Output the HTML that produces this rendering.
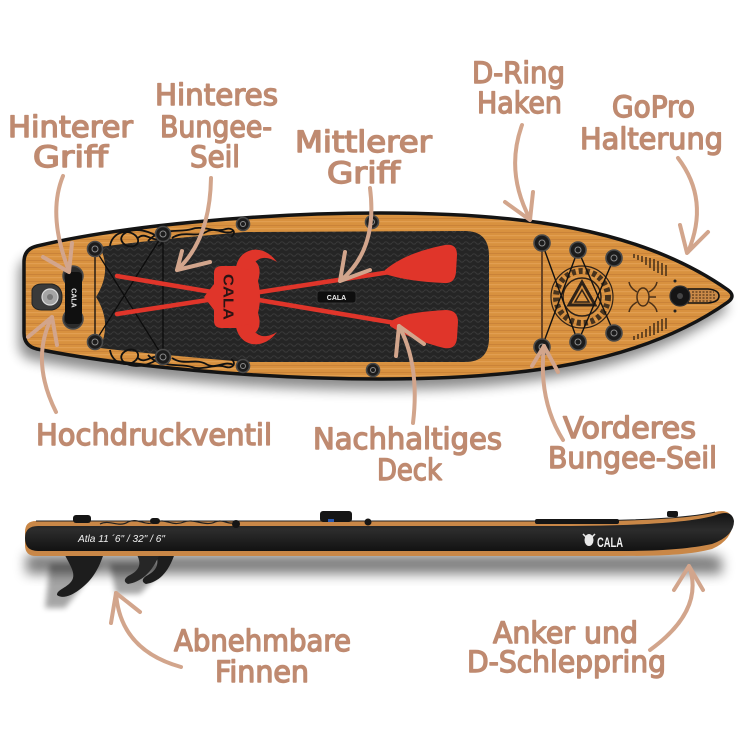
<!DOCTYPE html>
<html><head><meta charset="utf-8">
<style>
html,body{margin:0;padding:0;background:#fff;}
svg{display:block;}
.lb{font-family:"DejaVu Sans","Liberation Sans",sans-serif;font-weight:normal;font-size:29px;fill:#bf8a70;stroke:#bf8a70;stroke-width:1.4;stroke-linejoin:round;}
.ar{fill:none;stroke:#d2a58c;stroke-width:4;stroke-linecap:round;stroke-linejoin:round;}
.post{fill:#1c1c1c;stroke:#4a4a4a;stroke-width:1.6;}
.pin{fill:none;stroke:#8a8a8a;stroke-width:1;}
.ck{fill:none;stroke:#111;stroke-width:1.8;}
</style></head><body>
<svg width="750" height="750" viewBox="0 0 750 750" xmlns="http://www.w3.org/2000/svg">
<defs>
<filter id="bl" x="-10%" y="-60%" width="120%" height="220%"><feGaussianBlur stdDeviation="6"/></filter>
<filter id="bl3" x="-30%" y="-30%" width="160%" height="160%"><feGaussianBlur stdDeviation="3"/></filter>
<pattern id="wood" width="300" height="7" patternUnits="userSpaceOnUse">
<rect width="300" height="7" fill="#d8913f"/>
<rect y="1" width="300" height="1" fill="#b87230" opacity=".45"/>
<rect y="4" width="300" height="1.2" fill="#eaac63" opacity=".5"/>
</pattern>
<pattern id="mesh" width="8" height="6" patternUnits="userSpaceOnUse">
<rect width="8" height="6" fill="#252525"/>
<path d="M0,3 Q2,0.5 4,3 T8,3" stroke="#383838" stroke-width="1.1" fill="none"/>
</pattern>
<linearGradient id="side" x1="0" y1="0" x2="0" y2="1">
<stop offset="0" stop-color="#141414"/>
<stop offset=".45" stop-color="#2c2c2c"/>
<stop offset="1" stop-color="#121212"/>
</linearGradient>
</defs>

<!-- ===== TOP BOARD ===== -->
<path d="M24,262 Q24,249 37,246 C120,226 260,213 380,213 C520,213 640,228 728,290 Q736,296 728,302 C640,364 520,379 380,379 C260,379 120,366 37,349 Q24,346 24,333 Z" transform="translate(-5,11)" fill="#000" opacity=".45" filter="url(#bl)"/>
<path d="M24,262 Q24,249 37,246 C120,226 260,213 380,213 C520,213 640,228 728,290 Q736,296 728,302 C640,364 520,379 380,379 C260,379 120,366 37,349 Q24,346 24,333 Z" fill="url(#wood)" stroke="#141414" stroke-width="3.5"/>

<!-- deck pad -->
<path d="M100,247 C150,240 200,236 245,232 L465,231 Q489,231 489,256 L489,338 Q489,362 465,362 L245,362 C200,358 150,354 100,348 Q112,322 96,297 Q112,272 100,247 Z" fill="url(#mesh)"/>

<!-- celtic knots -->
<g class="ck">
<path d="M110,246 C112,232 128,228 136,236 C143,244 131,251 123,243 C116,235 131,226 148,232 C160,236 166,244 158,246 M148,241 C160,227 180,233 192,229 C202,225 216,233 226,229 C233,227 237,233 231,237 M172,238 C184,230 196,238 206,232 C216,226 224,236 234,231 M138,238 C146,230 154,246 164,236"/>
<path transform="translate(0,596) scale(1,-1)" d="M110,246 C112,232 128,228 136,236 C143,244 131,251 123,243 C116,235 131,226 148,232 C160,236 166,244 158,246 M148,241 C160,227 180,233 192,229 C202,225 216,233 226,229 C233,227 237,233 231,237 M172,238 C184,230 196,238 206,232 C216,226 224,236 234,231 M138,238 C146,230 154,246 164,236"/>
</g>

<!-- rear bungee -->
<g stroke="#0c0c0c" stroke-width="1.3">
<line x1="95" y1="249" x2="95" y2="342"/>
<line x1="163" y1="234" x2="163" y2="357"/>
<line x1="95" y1="249" x2="163" y2="357"/>
<line x1="163" y1="234" x2="95" y2="342"/>
</g>

<!-- red paddles -->
<g fill="#e0352a">
<line x1="117" y1="314" x2="390" y2="272" stroke="#e0352a" stroke-width="4.5" stroke-linecap="round"/>
<line x1="117" y1="276" x2="395" y2="323" stroke="#e0352a" stroke-width="4.5" stroke-linecap="round"/>
<path d="M385,270 C395,262 410,252 445,245 Q457,243 457,255 L456,272 Q455,284 444,283 C420,282 400,279 385,274 Z"/>
<path d="M390,322 C398,316 410,312 446,310 Q458,310 458,322 L457,338 Q456,350 444,348 C420,342 402,334 390,326 Z"/>
<!-- helmet -->
<path d="M204,297 L214,284 L214,273 Q214,266 222,266 L240,266 Q249,258 256,262 Q262,268 258,281 Q262,297 258,313 Q262,326 256,332 Q249,336 240,328 L222,328 Q214,328 214,321 L214,310 Z"/>
<path d="M236,267 C240,247 263,243 277,262 C264,254 255,258 250,270 Z"/>
<path d="M236,327 C240,347 263,351 277,332 C264,340 255,336 250,324 Z"/>
</g>
<text x="0" y="0" transform="translate(228,297) rotate(90)" text-anchor="middle" dominant-baseline="central" font-family="Liberation Sans, sans-serif" font-weight="bold" font-size="15" fill="#2a1414" textLength="46" lengthAdjust="spacingAndGlyphs">CALA</text>

<!-- center handle -->
<rect x="317" y="291" width="39" height="12" rx="3" fill="#0e0e0e" stroke="#333" stroke-width="1"/>
<text x="336.5" y="300" text-anchor="middle" font-family="Liberation Sans, sans-serif" font-weight="bold" font-size="7" fill="#eee">CALA</text>

<!-- rear handle + valve -->
<circle cx="73" cy="276" r="10" fill="#2b2b2b" stroke="#4a4a4a" stroke-width="1.5"/>
<circle cx="73" cy="319" r="10" fill="#2b2b2b" stroke="#4a4a4a" stroke-width="1.5"/>
<rect x="65" y="272" width="17" height="52" rx="4" fill="#101010"/>
<text x="0" y="0" transform="translate(73,298) rotate(90)" text-anchor="middle" dominant-baseline="central" font-family="Liberation Sans, sans-serif" font-weight="bold" font-size="7" fill="#eee">CALA</text>
<path d="M32,290 Q34,284 42,284 L52,284 Q62,286 62,297 Q62,308 52,310 L42,310 Q34,310 32,304 Z" fill="#3a3a3a" stroke="#222" stroke-width="1"/>
<circle cx="50" cy="297" r="8" fill="#a5a5a5" stroke="#ddd" stroke-width="1.2"/>
<circle cx="50" cy="297" r="3" fill="#777"/>

<!-- front mandala -->
<g fill="none" stroke="#2e2218">
<circle cx="582" cy="297" r="31" stroke-width="1.2"/>
<circle cx="582" cy="297" r="26" stroke-width="6" stroke-dasharray="4 3" opacity=".85"/>
<circle cx="582" cy="297" r="19" stroke-width="1.5"/>
<path d="M582,282 L569,305 L595,305 Z" stroke-width="3"/>
<path d="M582,290 L575,302 L589,302 Z" stroke-width="1.5"/>
</g>

<!-- front bungee -->
<line x1="542" y1="243" x2="542" y2="347" stroke="#6a4525" stroke-width="2"/>
<g stroke="#111" stroke-width="1.4">
<line x1="542" y1="243" x2="578" y2="342"/>
<line x1="578" y1="250" x2="542" y2="347"/>
<line x1="578" y1="250" x2="614" y2="333"/>
<line x1="614" y1="258" x2="578" y2="342"/>
</g>

<!-- hatches -->
<g stroke="#3a2614" stroke-width="1.4">
<line x1="634" y1="254" x2="634" y2="258"/><line x1="638" y1="255" x2="638" y2="260"/>
<line x1="642" y1="256" x2="642" y2="262"/><line x1="646" y1="257" x2="646" y2="265"/>
<line x1="650" y1="258" x2="650" y2="268"/><line x1="654" y1="259" x2="654" y2="271"/>
<line x1="658" y1="261" x2="658" y2="273"/><line x1="662" y1="263" x2="662" y2="275"/>
<line x1="666" y1="265" x2="666" y2="276"/>
<line x1="634" y1="340" x2="634" y2="336"/><line x1="638" y1="339" x2="638" y2="334"/>
<line x1="642" y1="338" x2="642" y2="332"/><line x1="646" y1="337" x2="646" y2="329"/>
<line x1="650" y1="336" x2="650" y2="326"/><line x1="654" y1="335" x2="654" y2="323"/>
<line x1="658" y1="333" x2="658" y2="321"/><line x1="662" y1="331" x2="662" y2="319"/>
<line x1="666" y1="329" x2="666" y2="318"/>
</g>

<!-- small viking icon -->
<g fill="none" stroke="#4a3018" stroke-width="1.5">
<ellipse cx="643" cy="297" rx="6" ry="9"/>
<path d="M637,292 Q630,288 629,282 M649,292 Q656,288 657,282 M637,302 Q630,306 629,312 M649,302 Q656,306 657,312"/>
<path d="M649,297 L656,297"/>
</g>

<!-- front mount -->
<path d="M688,289 L708,289 Q719,290 719,296 Q719,302 708,303 L688,303 Z" fill="#c98a48" stroke="#111" stroke-width="1.6"/>
<path d="M692,292 L714,292 M692,295 L716,295 M692,298 L716,298 M692,301 L713,301" stroke="#3a2410" stroke-width="1" stroke-dasharray="2 1.5"/>
<circle cx="680" cy="296" r="10" fill="#151515" stroke="#333" stroke-width="1.2"/>
<circle cx="680" cy="296" r="3" fill="#444"/>
<circle cx="675" cy="281" r="1.5" fill="#222"/><circle cx="675" cy="311" r="1.5" fill="#222"/>

<!-- posts -->
<g>
<circle class="post" cx="95" cy="249" r="7.5"/><circle class="pin" cx="95" cy="249" r="3"/>
<circle class="post" cx="95" cy="342" r="7.5"/><circle class="pin" cx="95" cy="342" r="3"/>
<circle class="post" cx="163" cy="234" r="7.5"/><circle class="pin" cx="163" cy="234" r="3"/>
<circle class="post" cx="163" cy="357" r="7.5"/><circle class="pin" cx="163" cy="357" r="3"/>
<circle class="post" cx="243" cy="224" r="6.5"/><circle class="pin" cx="243" cy="224" r="2.5"/>
<circle class="post" cx="243" cy="366" r="6.5"/><circle class="pin" cx="243" cy="366" r="2.5"/>
<circle class="post" cx="372" cy="222" r="6.5"/><circle class="pin" cx="372" cy="222" r="2.5"/>
<circle class="post" cx="373" cy="370" r="6.5"/><circle class="pin" cx="373" cy="370" r="2.5"/>
<circle class="post" cx="542" cy="243" r="8"/><circle class="pin" cx="542" cy="243" r="3"/>
<circle class="post" cx="578" cy="250" r="8"/><circle class="pin" cx="578" cy="250" r="3"/>
<circle class="post" cx="614" cy="258" r="8"/><circle class="pin" cx="614" cy="258" r="3"/>
<circle class="post" cx="542" cy="347" r="8"/><circle class="pin" cx="542" cy="347" r="3"/>
<circle class="post" cx="578" cy="342" r="8"/><circle class="pin" cx="578" cy="342" r="3"/>
<circle class="post" cx="614" cy="333" r="8"/><circle class="pin" cx="614" cy="333" r="3"/>
</g>

<!-- ===== SIDE BOARD ===== -->
<path d="M30,548 L700,548 Q720,548 726,552 L726,568 L30,568 Z" transform="translate(-4,6)" fill="#000" opacity=".5" filter="url(#bl)"/>
<path d="M60,556 L110,556 L75,600 L55,600 Z M120,556 L178,556 L150,586 L126,586 Z" transform="translate(-10,8)" fill="#000" opacity=".35" filter="url(#bl3)"/>
<!-- fins -->
<g fill="#1d1d1d">
<path d="M64,553 C70,566 78,575 70,583 C64,589 57,590 57,595 C62,599 71,596 79,590 C93,580 99,568 104,553 Z"/>
<path d="M155,553 C160,563 157,570 148,575 C142,578 141,582 146,584 C158,582 168,574 175,553 Z"/>
<path d="M136,553 C142,563 140,570 130,575 C124,578 123,582 128,584 C140,582 152,574 160,553 Z" fill="#262626"/>
</g>
<path d="M36,521 L560,521 C640,521 690,518 715,512 Q730,508 733,520 Q733,540 712,549 C690,555 660,556 620,556 L36,556 Q25,556 25,545 L25,532 Q25,521 36,521 Z" fill="#c98747"/>
<path d="M38,526 L560,526 C640,526 695,522 716,515 Q732,509 734,521 Q734,536 712,544 C688,549 660,551 620,551 L38,551 Q25,551 25,538 Q25,526 38,526 Z" fill="url(#side)"/>
<path d="M36,521 L560,521 C640,521 690,518 715,512" fill="none" stroke="#222" stroke-width="1"/>
<!-- celtic on side -->
<path d="M100,524 C110,519 118,528 128,522 C138,517 145,527 156,522 C166,518 172,527 184,522 C194,518 205,527 215,522 C222,519 228,524 232,523" fill="none" stroke="#222" stroke-width="1.2"/>
<!-- side bumps -->
<g fill="#151515">
<rect x="73" y="515" width="18" height="8" rx="3"/>
<rect x="150" y="518" width="10" height="6" rx="3"/>
<circle cx="236" cy="524" r="4"/>
<rect x="320" y="511" width="32" height="11" rx="3"/>
<circle cx="368" cy="522" r="3.5"/>
<rect x="535" y="519" width="84" height="5" rx="2"/>
<rect x="667" y="511" width="11" height="6" rx="2"/>
</g>
<rect x="328" y="519" width="6" height="3" fill="#2a58b0"/>
<text x="78" y="542" font-family="Liberation Sans, sans-serif" font-style="italic" font-size="10.5" fill="#f2f2f2" textLength="87" lengthAdjust="spacingAndGlyphs">Atla 11 ´6" / 32" / 6"</text>
<g fill="#e8e8e8">
<ellipse cx="589" cy="540" rx="4.5" ry="6"/>
<path d="M583,534 L586,537 M595,534 L592,537" stroke="#e8e8e8" stroke-width="1.5"/>
</g>
<text x="597" y="547" font-family="Liberation Sans, sans-serif" font-weight="bold" font-size="14" fill="#f2f2f2" textLength="26" lengthAdjust="spacingAndGlyphs">CALA</text>

<!-- ===== ARROWS ===== -->
<g class="ar">
<path d="M63,176 Q47,215 69,271"/><path d="M43,257 L69,272 L72,243"/>
<path d="M211,178 Q210,240 177,270"/><path d="M182,251 L177,270 L210,262"/>
<path d="M370,188 Q378,250 340,281"/><path d="M345,252 L340,281 L370,270"/>
<path d="M522,125 Q505,172 530,219"/><path d="M505,202 L530,220 L533,192"/>
<path d="M678,158 Q710,200 688,252"/><path d="M680,225 L687,253 L708,232"/>
<path d="M56,412 Q30,360 52,317"/><path d="M28,337 L52,317 L57,345"/>
<path d="M413,423 Q420,365 399,326"/><path d="M396,356 L399,326 L424,344"/>
<path d="M563,440 Q538,400 544,346"/><path d="M532,366 L544,346 L558,372"/>
<path d="M181,667 Q120,650 116,593"/><path d="M111,623 L116,593 L140,612"/>
<path d="M650,650 Q705,610 689,566"/><path d="M674,590 L689,566 L703,590"/>
</g>

<!-- ===== LABELS ===== -->
<g class="lb">
<text x="8" y="137" textLength="125" lengthAdjust="spacingAndGlyphs">Hinterer</text>
<text x="33" y="167" textLength="75" lengthAdjust="spacingAndGlyphs">Griff</text>
<text x="155" y="105" textLength="123" lengthAdjust="spacingAndGlyphs">Hinteres</text>
<text x="160" y="137" textLength="112" lengthAdjust="spacingAndGlyphs">Bungee-</text>
<text x="190" y="167" textLength="50" lengthAdjust="spacingAndGlyphs">Seil</text>
<text x="295" y="152" textLength="137" lengthAdjust="spacingAndGlyphs">Mittlerer</text>
<text x="327" y="183" textLength="73" lengthAdjust="spacingAndGlyphs">Griff</text>
<text x="472" y="83" textLength="93" lengthAdjust="spacingAndGlyphs">D-Ring</text>
<text x="477" y="113" textLength="85" lengthAdjust="spacingAndGlyphs">Haken</text>
<text x="612" y="117" textLength="83" lengthAdjust="spacingAndGlyphs">GoPro</text>
<text x="580" y="149" textLength="143" lengthAdjust="spacingAndGlyphs">Halterung</text>
<text x="36" y="445" textLength="236" lengthAdjust="spacingAndGlyphs">Hochdruckventil</text>
<text x="313" y="449" textLength="189" lengthAdjust="spacingAndGlyphs">Nachhaltiges</text>
<text x="377" y="480" textLength="65" lengthAdjust="spacingAndGlyphs">Deck</text>
<text x="563" y="438" textLength="133" lengthAdjust="spacingAndGlyphs">Vorderes</text>
<text x="548" y="468" textLength="169" lengthAdjust="spacingAndGlyphs">Bungee-Seil</text>
<text x="174" y="651" textLength="177" lengthAdjust="spacingAndGlyphs">Abnehmbare</text>
<text x="215" y="682" textLength="94" lengthAdjust="spacingAndGlyphs">Finnen</text>
<text x="493" y="643" textLength="145" lengthAdjust="spacingAndGlyphs">Anker und</text>
<text x="467" y="672" textLength="199" lengthAdjust="spacingAndGlyphs">D-Schleppring</text>
</g>
</svg>
</body></html>
